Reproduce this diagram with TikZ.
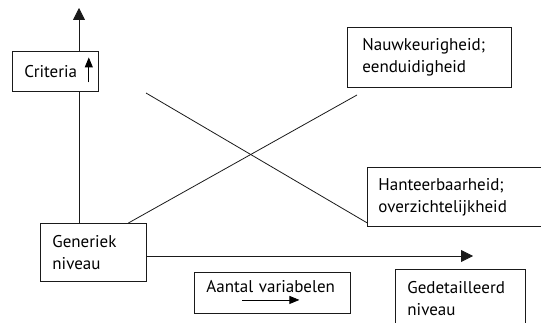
\documentclass[tikz,border=0pt]{standalone}
\usepackage{fontspec}
\setmainfont{PT Sans}
\usepackage{xcolor}
\usetikzlibrary{arrows.meta, positioning, calc}
\definecolor{kline}{HTML}{1A1A1A}
\tikzset{
  tbox/.style={draw=kline, fill=white, line width=0.8pt, anchor=north west,
               align=left, inner xsep=12pt, inner ysep=6pt,
               font=\fontsize{17}{22}\selectfont},
  axisarrow/.style={-{Triangle[length=12pt, width=12pt]}, kline, line width=0.8pt},
  smallarrow/.style={-{Triangle[length=10pt, width=8pt]}, black, line width=0.8pt},
  plainline/.style={kline, line width=0.8pt},
}

\begin{document}
\begin{tikzpicture}[x=1pt, y=-1pt]

  \clip (0,0) rectangle (541,323);
  \fill[white] (0,0) rectangle (541,323);

  % boxes
  \node[tbox, text width=62pt, minimum height=40pt] (crit) at (12,51) {Criteria};
  \node[tbox, text width=82pt, minimum height=58pt] (gen) at (40,223) {Generiek\\niveau};
  \node[tbox, inner xsep=15pt, text width=134pt, minimum height=60pt] (nauw) at (347,27)
    {Nauwkeurigheid;\\eenduidigheid};
  \node[tbox, inner xsep=11pt, text width=170pt, minimum height=59pt] (hant) at (367,167)
    {Hanteerbaarheid;\\overzichtelijkheid};
  \node[tbox, text width=132pt, inner ysep=8pt, text depth=13pt] (aantal) at (194,272)
    {Aantal variabelen};
  \node[tbox, text width=106pt, minimum height=58pt] (gedet) at (395,269)
    {Gedetailleerd\\niveau};

  \coordinate (ytip) at (79,8);
  \coordinate (xtip) at (473,256);
  \coordinate (nauwend) at (357,95);
  \coordinate (hantstart) at (146,93);

  % axes
  \draw[plainline] (gen.north -| ytip) -- (crit.south -| ytip);
  \draw[axisarrow] (crit.north -| ytip) -- (ytip);
  \draw[axisarrow] (gen.east |- xtip) -- (xtip);

  % diagonals
  \draw[plainline] ([xshift=35pt]gen.north) -- (nauwend);
  \draw[plainline] (hantstart) -- ([yshift=4pt]hant.south west);

  % arrows inside the labels
  \draw[smallarrow] ([xshift=-10pt, yshift=-11pt]crit.east) -- ([xshift=-10pt, yshift=14pt]crit.east);
  \draw[smallarrow] ([xshift=-30pt, yshift=-7pt]aantal.center) -- ([xshift=27pt, yshift=-7pt]aantal.center);

\end{tikzpicture}
\end{document}
